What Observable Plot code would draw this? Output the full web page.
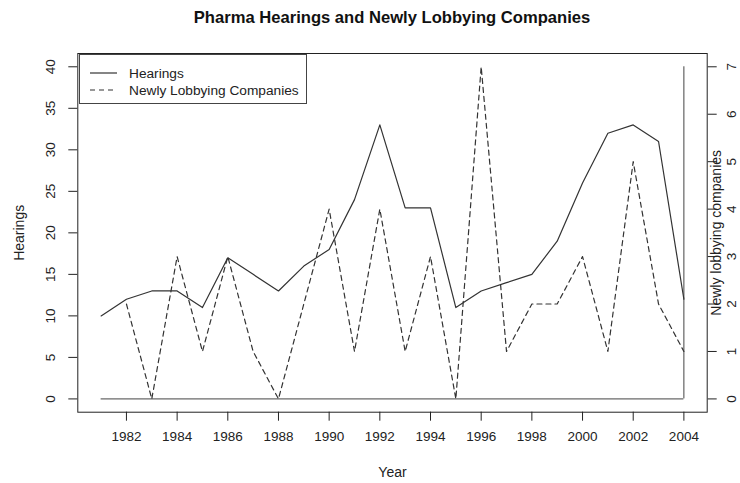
<!DOCTYPE html>
<html>
<head>
<meta charset="utf-8">
<script src="https://cdn.jsdelivr.net/npm/d3@7"></script>
<script src="https://cdn.jsdelivr.net/npm/@observablehq/plot@0.6"></script>
<style>
  body { margin: 0; background: #fff; font-family: "Liberation Sans", Arial, Helvetica, sans-serif; }
  #wrap { position: relative; width: 740px; height: 483px; }
  #title { position: absolute; left: 0; top: 0; width: 740px; height: 40px; }
  #title span { position: absolute; left: 392px; top: 18px; transform: translate(-50%, -50%); white-space: nowrap;
    font-weight: bold; font-size: 16.6px; color: #111; }
  .layer { position: absolute; left: 0; top: 40px; }
  #legend { position: absolute; left: 79px; top: 54px; width: 228px; height: 50px; border: 1px solid #444; background: #fff; box-sizing: border-box; }
</style>
</head>
<body>
<div id="wrap">
  <div id="title"><span>Pharma Hearings and Newly Lobbying Companies</span></div>
  <div id="chartLeft" class="layer"></div>
  <div id="chartRight" class="layer"></div>
  <svg id="legend" width="228" height="50"></svg>
</div>
<script>
const years = [1981,1982,1983,1984,1985,1986,1987,1988,1989,1990,1991,1992,1993,1994,1995,1996,1997,1998,1999,2000,2001,2002,2003,2004];
const hearings = [10,12,13,13,11,17,15,13,16,18,24,33,23,23,11,13,14,15,19,26,32,33,31,12];
const lobbyYears = [1982,1983,1984,1985,1986,1987,1988,1989,1990,1991,1992,1993,1994,1995,1996,1997,1998,1999,2000,2001,2002,2003,2004];
const lobbying = [2,0,3,1,3,1,0,2,4,1,4,1,3,0,7,1,2,2,3,1,5,2,1];
const xTicks = [1982,1984,1986,1988,1990,1992,1994,1996,1998,2000,2002,2004];
const leftTicks = [0,5,10,15,20,25,30,35,40];
const rightTicks = [0,1,2,3,4,5,6,7];
const seriesNames = ["Hearings", "Newly Lobbying Companies"];

const hearingsData = years.map((y, i) => ({year: y, value: hearings[i]}));
const lobbyData = lobbyYears.map((y, i) => ({year: y, value: lobbying[i]}));

const ink = "#222";
const font = '"Liberation Sans", Arial, Helvetica, sans-serif';
const pad = (lo, hi) => [lo - 0.04 * (hi - lo), hi + 0.04 * (hi - lo)];
const xDomain = pad(years[0], years[years.length - 1]);

const common = {
  width: 740,
  height: 443,
  marginLeft: 77.3,
  marginRight: 33.3,
  marginTop: 13,
  marginBottom: 71.3
};

const left = Plot.plot({
  ...common,
  style: {fontFamily: font, fontSize: "13.5px", color: ink, background: "#fff", overflow: "visible"},
  x: {domain: xDomain, ticks: xTicks, tickSize: 9, tickPadding: 10, tickFormat: d => String(d), label: null},
  y: {domain: pad(0, 40), axis: "left", ticks: leftTicks, tickSize: 9, tickFormat: () => "", label: null},
  marks: [
    Plot.frame({stroke: ink, strokeWidth: 1}),
    Plot.ruleY([0], {x1: years[0], x2: years[years.length - 1], stroke: "#444", strokeWidth: 1}),
    Plot.ruleX([years[years.length - 1]], {y1: 0, y2: leftTicks[leftTicks.length - 1], stroke: "#444", strokeWidth: 1}),
    Plot.line(hearingsData, {x: "year", y: "value", stroke: "#333", strokeWidth: 1.2}),
    Plot.text(leftTicks, {y: d => d, text: d => String(d), frameAnchor: "left", dx: -27, rotate: -90, textAnchor: "middle", lineAnchor: "middle", fill: ink}),
    Plot.text(["Hearings"], {frameAnchor: "left", dx: -58, rotate: -90, textAnchor: "middle", lineAnchor: "middle", fill: ink, fontSize: 14}),
    Plot.text(["Year"], {frameAnchor: "bottom", dy: 60, textAnchor: "middle", lineAnchor: "middle", fill: ink, fontSize: 14})
  ]
});
document.getElementById("chartLeft").appendChild(left);

const right = Plot.plot({
  ...common,
  style: {fontFamily: font, fontSize: "13.5px", color: ink, background: "transparent", overflow: "visible"},
  x: {domain: xDomain, axis: null},
  y: {domain: pad(0, 7), axis: "right", ticks: rightTicks, tickSize: 9, tickFormat: () => "", label: null},
  marks: [
    Plot.line(lobbyData, {x: "year", y: "value", stroke: "#333", strokeWidth: 1.2, strokeDasharray: "5,4"}),
    Plot.text(rightTicks, {y: d => d, text: d => String(d), frameAnchor: "right", dx: 24, rotate: -90, textAnchor: "middle", lineAnchor: "middle", fill: ink}),
    Plot.text(["Newly lobbying companies"], {frameAnchor: "right", dx: 9.5, rotate: -90, textAnchor: "middle", lineAnchor: "middle", fill: ink, fontSize: 14})
  ]
});
document.getElementById("chartRight").appendChild(right);

// Legend
const lg = d3.select("#legend");
const rows = [{name: seriesNames[0], dash: null, y: 18}, {name: seriesNames[1], dash: "5,4", y: 35}];
rows.forEach(r => {
  lg.append("line").attr("x1", 10).attr("x2", 37).attr("y1", r.y).attr("y2", r.y)
    .attr("stroke", "#333").attr("stroke-width", 1.2).attr("stroke-dasharray", r.dash);
  lg.append("text").attr("x", 49).attr("y", r.y).attr("dy", "0.35em")
    .attr("font-family", font).attr("font-size", "13.7px").attr("fill", ink).text(r.name);
});
</script>
</body>
</html>
